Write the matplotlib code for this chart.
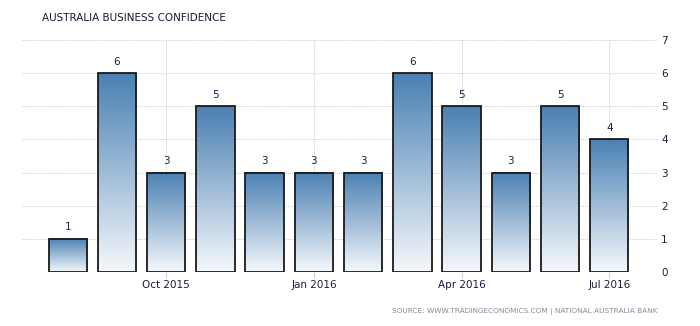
import matplotlib.pyplot as plt
import numpy as np
from matplotlib.colors import LinearSegmentedColormap

months = ['Aug 2015', 'Sep 2015', 'Oct 2015', 'Nov 2015', 'Dec 2015', 'Jan 2016',
          'Feb 2016', 'Mar 2016', 'Apr 2016', 'May 2016', 'Jun 2016', 'Jul 2016']
values = [1, 6, 3, 5, 3, 3, 3, 6, 5, 3, 5, 4]
tick_idx = [2, 5, 8, 11]
tick_labels = ['Oct 2015', 'Jan 2016', 'Apr 2016', 'Jul 2016']

fig = plt.figure(figsize=(7, 3.26), dpi=100)
ax = fig.add_axes([0.031, 0.1656, 0.9076, 0.7114])

# each bar fades from steel blue at its top to near white at the base
cmap = LinearSegmentedColormap.from_list('bluefade', ['#f5f8fb', '#4a80b3'])
grad = np.linspace(0, 1, 256).reshape(-1, 1)
w = 0.78
x = np.arange(len(values))

for xi, v in zip(x, values):
    ax.imshow(grad, cmap=cmap, aspect='auto', origin='lower',
              extent=[xi - w / 2, xi + w / 2, 0, v], zorder=2)
bars = ax.bar(x, values, width=w, facecolor='none', edgecolor='#1a1a1a',
              linewidth=1.3, zorder=3)
for b in bars:
    b.set_joinstyle('miter')
for xi, v in zip(x, values):
    ax.text(xi, v + 0.2, str(v), ha='center', va='bottom', fontsize=7.5,
            color='#1c1c4c', zorder=4)

ax.set_xlim(-0.935, 11.97)
ax.set_ylim(0, 7)
ax.set_yticks(range(0, 8))
ax.yaxis.tick_right()
ax.set_xticks(tick_idx)
ax.set_xticklabels(tick_labels)
ax.tick_params(axis='x', length=4, color='#cccccc', labelsize=7.5,
               labelcolor='#1c1c3c', pad=2)
ax.tick_params(axis='y', length=0, labelsize=7.5, labelcolor='#1c1c3c', pad=3)
ax.grid(True, color='#c8c8c8', linestyle=(0, (1, 1.2)), linewidth=0.7, zorder=0)
ax.set_axisbelow(True)
for s in ax.spines.values():
    s.set_visible(False)

fig.text(0.06, 0.945, 'AUSTRALIA BUSINESS CONFIDENCE', fontsize=7.5,
         fontweight='medium', color='#1a1a2e', ha='left', va='center')
fig.text(0.9386, 0.043, 'SOURCE: WWW.TRADINGECONOMICS.COM | NATIONAL AUSTRALIA BANK',
         fontsize=5.3, color='#8a8a9a', ha='right', va='center')

plt.savefig('out.png', dpi=100)
